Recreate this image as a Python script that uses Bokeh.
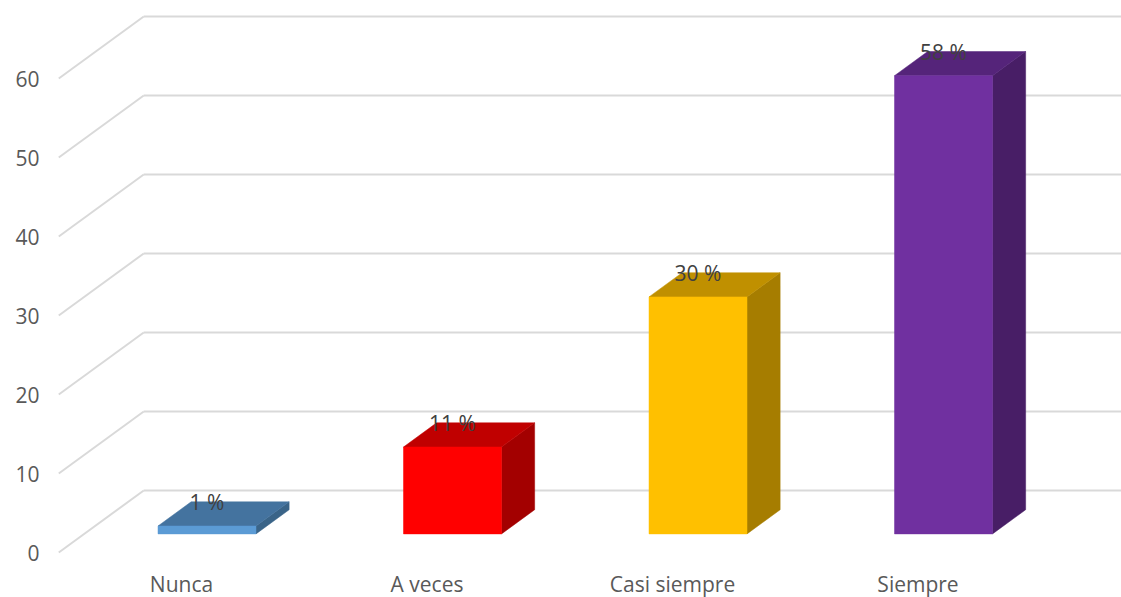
from bokeh.plotting import figure
from bokeh.models import Range1d
from bokeh.core.properties import value
from bokeh.embed import file_html
from bokeh.resources import INLINE

# ---- data ----
categories = ["Nunca", "A veces", "Casi siempre", "Siempre"]
values = [1, 11, 30, 58]
labels = ["1 %", "11 %", "30 %", "58 %"]
front_colors = ["#5B9BD5", "#FF0000", "#FFC000", "#7030A0"]
top_colors = ["#44739F", "#C00000", "#C09000", "#55247A"]
side_colors = ["#3A6488", "#A30000", "#A67D00", "#481E66"]
y_ticks = [0, 10, 20, 30, 40, 50, 60]

# ---- layout (pixel mapping) ----
W, H = 1121, 597
X0PX, XSTEP = 181.0, 245.5      # pixel of category 0 centre (front plane), px per category
Y0PX, YSTEP = 552.0, 7.9        # pixel of value 0 (front plane), px per unit
DX = 85.0 / XSTEP               # full depth offset in x units
DY = 62.0 / YSTEP               # full depth offset in y units
F1, F2 = 0.30, 0.69             # bar depth span
BW = 98.0 / XSTEP               # bar width

x_start = (0 - X0PX) / XSTEP
x_end = (W - X0PX) / XSTEP
y_start = (Y0PX - H) / YSTEP
y_end = Y0PX / YSTEP

p = figure(width=W, height=H, x_range=Range1d(x_start, x_end), y_range=Range1d(y_start, y_end),
           x_axis_location=None, y_axis_location=None, toolbar_location=None,
           output_backend="svg", min_border=0, outline_line_color=None)
p.grid.visible = False
p.background_fill_color = "white"
p.border_fill_color = "white"

grid_col = "#D9D9D9"
left = -0.5
for v in y_ticks:
    p.line([left + DX, x_end + 1], [v + DY, v + DY], line_color=grid_col, line_width=2)
    p.line([left, left + DX], [v, v + DY], line_color=grid_col, line_width=2)

FONT = value("Open Sans")
FS = "21px"

# tick labels
p.text(x=[(39 - X0PX) / XSTEP] * len(y_ticks), y=y_ticks, text=[str(t) for t in y_ticks],
       text_align="right", text_baseline="middle", text_font=FONT,
       text_font_size=FS, text_color="#595959")

# category labels
p.text(x=list(range(len(categories))), y=[(Y0PX - 583) / YSTEP] * len(categories), text=categories,
       text_align="center", text_baseline="middle", text_font=FONT,
       text_font_size=FS, text_color="#595959")

d = F2 - F1
fx, fy, tx, ty, sx, sy = [], [], [], [], [], []
for i, v in enumerate(values):
    cx = i + F1 * DX
    xl, xr = cx - BW / 2, cx + BW / 2
    base = F1 * DY
    top = v + base
    fx.append([xl, xr, xr, xl]); fy.append([base, base, top, top])
    tx.append([xl, xr, xr + d * DX, xl + d * DX]); ty.append([top, top, top + d * DY, top + d * DY])
    sx.append([xr, xr + d * DX, xr + d * DX, xr]); sy.append([base, base + d * DY, top + d * DY, top])

p.patches(sx, sy, fill_color=side_colors, line_color=side_colors, line_width=0.5)
p.patches(tx, ty, fill_color=top_colors, line_color=top_colors, line_width=0.5)
p.patches(fx, fy, fill_color=front_colors, line_color=front_colors, line_width=0.5)

p.text(x=[i + F1 * DX for i in range(len(values))], y=[v + F2 * DY for v in values], text=labels,
       text_align="center", text_baseline="middle", text_font=FONT,
       text_font_size=FS, text_color="#404040")

open("out.html", "w").write(file_html(p, INLINE))
